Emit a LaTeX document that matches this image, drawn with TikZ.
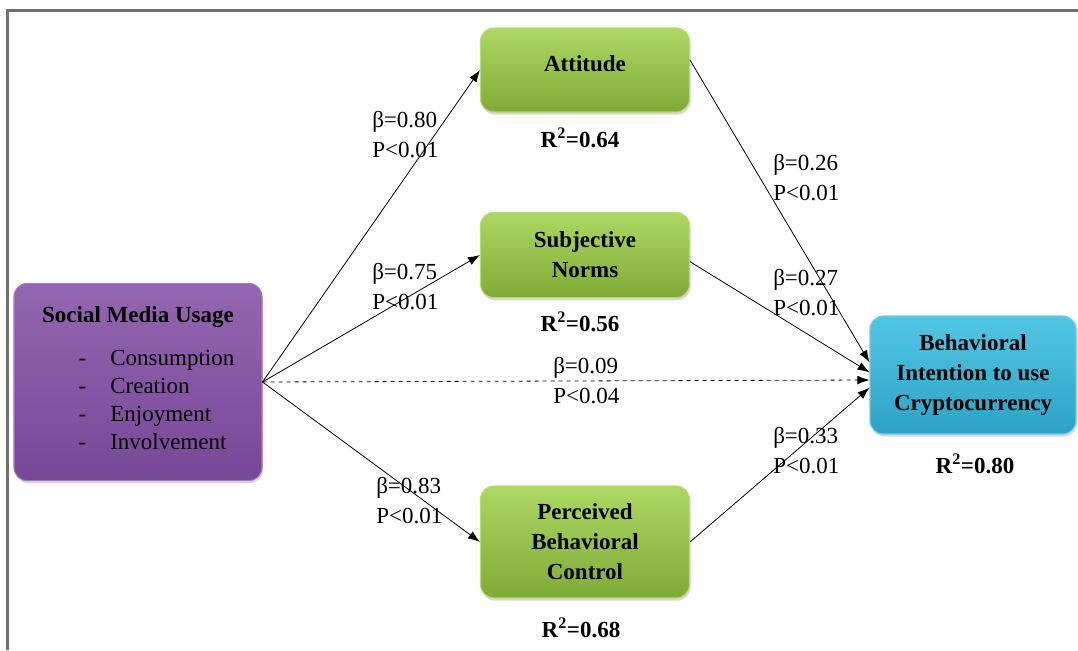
\documentclass[tikz,border=0pt]{standalone}
\usepackage{fontspec}
\setmainfont{Liberation Serif}
\usetikzlibrary{shadows,arrows.meta}

\definecolor{greentop}{HTML}{ACD864}
\definecolor{greenbot}{HTML}{80AA36}
\definecolor{greenrim}{HTML}{B6DC78}
\definecolor{purpletop}{HTML}{9465B0}
\definecolor{purplebot}{HTML}{774896}
\definecolor{purplerim}{HTML}{A07CBC}
\definecolor{bluetop}{HTML}{52C6E4}
\definecolor{bluebot}{HTML}{2CA2C6}
\definecolor{bluerim}{HTML}{70CDE6}
\definecolor{framegray}{HTML}{707070}

\begin{document}
\begin{tikzpicture}[x=0.75pt,y=-0.75pt,
    font=\fontsize{17.25}{22.5}\selectfont,
    box/.style={rounded corners=10pt,align=center,line width=0.8pt,
      font=\fontsize{17.25}{22.5}\selectfont\bfseries,
      drop shadow={shadow xshift=0.8pt,shadow yshift=-2pt,opacity=0.3}},
    greenbox/.style={box,draw=greenrim,top color=greentop,bottom color=greenbot,
      minimum width=156.75pt},
    link/.style={line width=0.6pt,-{Latex[length=9pt,width=6.5pt]}},
    coef/.style={align=left,inner sep=0pt},
    rsq/.style={font=\fontsize{17.25}{22.5}\selectfont\bfseries}]
  \useasboundingbox (0,0) rectangle (1078,650);
  \draw[framegray,line width=1.7pt] (7.5,650) -- (7.5,10.5) -- (1078,10.5);

  \node[box,draw=purplerim,top color=purpletop,bottom color=purplebot,
    minimum width=186pt,minimum height=148pt] (smu) at (138,382)
    {Social Media Usage\\[13pt]
     \mdseries\fontsize{17.25}{20.8}\selectfont
     \begin{tabular}{@{\hspace{1.6em}}l@{\hspace{1.05em}}l@{}}
       -&Consumption\\ -&Creation\\ -&Enjoyment\\ -&Involvement
     \end{tabular}};
  \node[greenbox,minimum height=63pt] (att) at (585,70) {\raisebox{9pt}{Attitude}};
  \node[greenbox,minimum height=64pt] (sn) at (585,255) {Subjective\\Norms};
  \node[greenbox,minimum height=84pt] (pbc) at (585,542) {Perceived\\Behavioral\\Control};
  \node[box,draw=bluerim,top color=bluetop,bottom color=bluebot,
    minimum width=154.5pt,minimum height=88.5pt] (bi) at (973,375)
    {Behavioral\\Intention to use\\Cryptocurrency};

  \node[rsq] (attr) at (580,138) {R\textsuperscript{2}=0.64};
  \node[rsq] (snr) at (580,322) {R\textsuperscript{2}=0.56};
  \node[rsq] (pbcr) at (581,628) {R\textsuperscript{2}=0.68};
  \node[rsq] (bir) at (975,464) {R\textsuperscript{2}=0.80};

  \draw[link] (smu.east) -- (att.west);
  \draw[link] (smu.east) -- (sn.west);
  \draw[link] (smu.east) -- (pbc.west);
  \draw[link,dashed] (smu.east) -- ([yshift=-3.75pt]bi.west);
  \draw[link] ([yshift=7.5pt]att.east) -- ([yshift=9.5pt]bi.west);
  \draw[link] ([yshift=-5pt]sn.east) -- ([yshift=2pt]bi.west);
  \draw[link] (pbc.east) -- ([yshift=-9.5pt]bi.west);

  \node[coef,anchor=west] (c1) at (372,135) {β=0.80\\P<0.01};
  \node[coef,anchor=west] (c2) at (372,287) {β=0.75\\P<0.01};
  \node[coef,anchor=west] (c3) at (376,501) {β=0.83\\P<0.01};
  \node[coef,anchor=west] (c0) at (553,381) {β=0.09\\P<0.04};
  \node[coef,anchor=west] (c4) at (773,178) {β=0.26\\P<0.01};
  \node[coef,anchor=west] (c5) at (773,293) {β=0.27\\P<0.01};
  \node[coef,anchor=west] (c6) at (773,451) {β=0.33\\P<0.01};
\end{tikzpicture}
\end{document}
